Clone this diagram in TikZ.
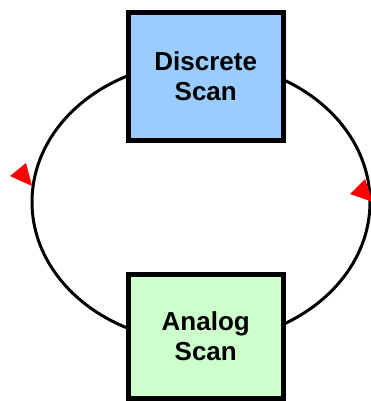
\documentclass[tikz,border=0pt]{standalone}
\usepackage{fontspec}
\setmainfont{Liberation Sans}
\definecolor{discblue}{HTML}{99CCFF}
\definecolor{anagreen}{HTML}{CCFFCC}
\begin{document}
\begin{tikzpicture}[x=1pt,y=-1pt,
  scanbox/.style={draw=black, line width=5pt, rectangle, minimum width=155.5pt,
    align=center, font=\fontsize{26}{30}\selectfont\bfseries, inner sep=0pt},
  loopline/.style={draw=black, line width=3pt},
  tipmark/.style={fill=red, draw=none}]
\useasboundingbox (0,0) rectangle (371,401);
\begin{scope}
\clip (0,0) rectangle (371,401);
\draw[loopline] (201,202) ellipse [x radius=169, y radius=140];
\fill[tipmark] (10,176) -- (26,163) -- (32,186) -- cycle;
\fill[tipmark] (350,194) -- (365,179) -- (373,202) -- cycle;
\end{scope}
\node[scanbox, fill=discblue, minimum height=128pt] (disc) at (205.75,76.5) {Discrete\\Scan};
\node[scanbox, fill=anagreen, minimum height=124pt] (ana) at (205.75,336) {Analog\\Scan};
\end{tikzpicture}
\end{document}
